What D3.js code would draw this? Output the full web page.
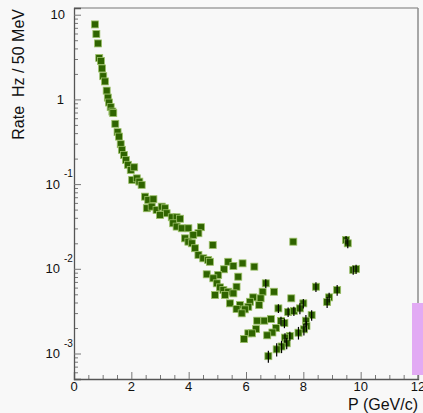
<!DOCTYPE html>
<html>
<head>
<meta charset="utf-8">
<script src="https://cdn.jsdelivr.net/npm/d3@7"></script>
<style>
  body { margin: 0; background: #f8f8f8; }
  text { font-family: "Liberation Sans", Arial, sans-serif; fill: #111; }
</style>
</head>
<body>
<div id="chart"></div>
<script>
// momentum (GeV/c), rate (Hz / 50 MeV) and rate error
var momentum = [
  0.73, 0.78, 0.84, 0.88, 0.94, 0.98, 1.02, 1.08, 1.14, 1.18,
  1.22, 1.28, 1.34, 1.37, 1.44, 1.52, 1.57, 1.63, 1.67, 1.74,
  1.81, 1.88, 1.98, 2.10, 2.03, 2.19, 2.28, 2.36, 2.48, 2.59,
  2.77, 2.54, 2.71, 2.88, 3.06, 3.17, 3.23, 3.41, 3.58, 3.00,
  3.70, 3.46, 3.58, 3.76, 3.99, 4.43, 4.34, 4.16, 3.87, 3.99,
  4.11, 4.22, 4.84, 4.34, 4.51, 4.68, 4.74, 5.38, 5.56, 5.88,
  6.29, 5.23, 4.63, 5.03, 5.73, 4.86, 4.98, 5.09, 5.67, 6.69,
  5.21, 5.38, 5.56, 6.58, 6.98, 4.92, 5.27, 6.25, 6.51, 6.14,
  5.44, 5.79, 6.08, 6.46, 7.13, 7.65, 9.49, 9.55, 9.74, 9.84,
  8.44, 9.18, 8.90, 8.83, 7.58, 8.00, 5.67, 5.96, 5.85, 7.47,
  7.67, 7.88, 8.29, 6.39, 6.64, 6.87, 7.22, 7.34, 8.09, 8.11,
  8.02, 7.83, 7.05, 6.92, 6.74, 6.35, 6.08, 6.21, 5.93, 7.53,
  7.36, 7.42, 7.24, 7.07, 6.78
];
var rate = [
  7.68, 5.91, 4.58, 3.08, 2.84, 2.32, 1.88, 1.63, 1.27, 1.05,
  0.919, 0.811, 0.719, 0.689, 0.515, 0.411, 0.364, 0.296, 0.254, 0.221,
  0.193, 0.169, 0.147, 0.158, 0.112, 0.117, 0.107, 0.098, 0.0711, 0.0650,
  0.0663, 0.0519, 0.0542, 0.0496, 0.0542, 0.0519, 0.0453, 0.0406, 0.0406, 0.0432,
  0.0390, 0.0345, 0.0315, 0.0301, 0.0301, 0.0310, 0.0263, 0.0251, 0.0229, 0.0209,
  0.0200, 0.0175, 0.0191, 0.0146, 0.0133, 0.0127, 0.0121, 0.0121, 0.0108, 0.0116,
  0.0106, 0.00987, 0.00861, 0.00845, 0.00807, 0.00773, 0.00674, 0.00604, 0.00614, 0.00674,
  0.00562, 0.00536, 0.00513, 0.00536, 0.00536, 0.00490, 0.00490, 0.00460, 0.00448, 0.00408,
  0.00391, 0.00373, 0.00356, 0.00373, 0.00341, 0.0209, 0.0219, 0.0200, 0.00968, 0.00995,
  0.00614, 0.00562, 0.00460, 0.00405, 0.00448, 0.00391, 0.00335, 0.00332, 0.00298, 0.00309,
  0.00317, 0.00341, 0.00284, 0.00244, 0.00244, 0.00255, 0.00242, 0.00229, 0.00244, 0.00211,
  0.00193, 0.00176, 0.00200, 0.00177, 0.00164, 0.00194, 0.00173, 0.00173, 0.00148, 0.00161,
  0.00154, 0.00132, 0.00121, 0.00112, 0.00093
];
var rateErr = [
  0, 0, 0, 0, 0, 0, 0, 0, 0, 0,
  0, 0, 0, 0, 0, 0, 0, 0, 0, 0,
  0, 0, 0, 0, 0, 0, 0, 0, 0, 0,
  0, 0, 0, 0, 0, 0, 0, 0, 0, 0,
  0, 0, 0, 0, 0, 0, 0, 0, 0, 0,
  0, 0, 0, 0, 0, 0, 0, 0, 0, 0,
  0, 0, 0, 0, 0, 0, 0, 0, 0, 0.0008,
  0, 0, 0, 0, 0, 0, 0, 0, 0, 0,
  0, 0, 0, 0, 0.0004, 0, 0.0025, 0.0025, 0.0012, 0.0012,
  0.0008, 0.0008, 0.0006, 0.0006, 0, 0.0005, 0, 0, 0, 0.0004,
  0.0004, 0.0005, 0.0004, 0, 0, 0, 0.0003, 0.0003, 0.0004, 0.0003,
  0.0003, 0.0003, 0, 0, 0, 0, 0, 0, 0, 0.0002,
  0.0002, 0.0002, 0.0002, 0.0002, 0.00015
];

var xTicks = [0, 2, 4, 6, 8, 10, 12];
var yDecades = [-3, -2, -1, 0, 1];

var svgWidth = 423;
var svgHeight = 413;

var svg = d3.select("#chart")
  .append("svg")
  .attr("width", svgWidth)
  .attr("height", svgHeight);

svg.append("rect")
  .attr("width", svgWidth)
  .attr("height", svgHeight)
  .attr("fill", "#f8f8f8");

var x = d3.scaleLinear().domain([0, 12]).range([74, 418]);
var y = d3.scaleLog().domain([5e-4, 12]).range([379, 8]);

// frame (top and right in grey)
svg.append("line")
  .attr("x1", x(0)).attr("x2", x(12))
  .attr("y1", y(12)).attr("y2", y(12))
  .attr("stroke", "#a0a0a0").attr("stroke-width", 1.5);
svg.append("line")
  .attr("x1", x(12)).attr("x2", x(12))
  .attr("y1", y(12)).attr("y2", y(5e-4))
  .attr("stroke", "#8c8c8c").attr("stroke-width", 1.5);

// x axis: major ticks every 2, minor every 0.5, drawn upward
var minorX = d3.range(0, 12.01, 0.5).filter(d => d % 2 !== 0);
var xAxisMinor = svg.append("g")
  .attr("transform", `translate(0, ${y(5e-4)})`)
  .call(d3.axisTop(x).tickValues(minorX).tickSize(4).tickFormat(""));
var xAxis = svg.append("g")
  .attr("transform", `translate(0, ${y(5e-4)})`)
  .call(d3.axisTop(x).tickValues(xTicks).tickSize(7).tickFormat(""));

// y axis: decade ticks and 2..9 minor ticks, drawn inward
var minorY = [];
yDecades.forEach(function(e) {
  for (var k = 2; k <= 9; k++) {
    var v = k * Math.pow(10, e);
    if (v < 12 && v > 5e-4) minorY.push(v);
  }
});
minorY.push(6e-4, 7e-4, 8e-4, 9e-4);
var yAxisMinor = svg.append("g")
  .attr("transform", `translate(${x(0)}, 0)`)
  .call(d3.axisRight(y).tickValues(minorY).tickSize(4).tickFormat(""));
var yAxis = svg.append("g")
  .attr("transform", `translate(${x(0)}, 0)`)
  .call(d3.axisRight(y).tickValues(yDecades.map(e => Math.pow(10, e))).tickSize(7).tickFormat(""));

svg.selectAll(".domain").attr("stroke", "#555").attr("stroke-width", 1.3);
svg.selectAll(".tick line").attr("stroke", "#777");
xAxisMinor.select(".domain").remove();
yAxisMinor.select(".domain").remove();

// x tick labels
svg.selectAll(".xlab")
  .data(xTicks)
  .enter()
  .append("text")
  .attr("x", d => x(d))
  .attr("y", 391)
  .attr("text-anchor", "middle")
  .attr("font-size", 13)
  .text(d => d);

// y tick labels
yDecades.forEach(function(e) {
  var py = y(Math.pow(10, e));
  if (e === 0) {
    svg.append("text").attr("x", 64).attr("y", py + 4.5)
      .attr("text-anchor", "end").attr("font-size", 13).text("1");
  } else if (e === 1) {
    svg.append("text").attr("x", 65).attr("y", py + 4.5)
      .attr("text-anchor", "end").attr("font-size", 13).text("10");
  } else {
    svg.append("text").attr("x", 60).attr("y", py + 4.5)
      .attr("text-anchor", "end").attr("font-size", 13).text("10");
    svg.append("text").attr("x", 64).attr("y", py - 7)
      .attr("text-anchor", "start").attr("font-size", 10).text(e);
  }
});

// axis titles
svg.append("text")
  .attr("x", 418)
  .attr("y", 410)
  .attr("text-anchor", "end")
  .attr("font-size", 16)
  .text("P (GeV/c)");

svg.append("text")
  .attr("transform", "translate(24, 9) rotate(-90)")
  .attr("text-anchor", "end")
  .attr("font-size", 16)
  .attr("xml:space", "preserve")
  .text("Rate  Hz / 50 MeV");

// data points
var points = momentum.map((d, i) => ({p: d, r: rate[i], e: rateErr[i]}));

svg.selectAll(".pt")
  .data(points)
  .enter()
  .append("rect")
  .attr("x", d => x(d.p) - 3.5)
  .attr("y", d => y(d.r) - 3.5)
  .attr("width", 7)
  .attr("height", 7)
  .attr("fill", "#2f6400")
  .attr("stroke", "#9cc068")
  .attr("stroke-width", 0.8);

svg.selectAll(".err")
  .data(points.filter(d => d.e > 0))
  .enter()
  .append("line")
  .attr("x1", d => x(d.p)).attr("x2", d => x(d.p))
  .attr("y1", d => y(d.r - d.e)).attr("y2", d => y(d.r + d.e))
  .attr("stroke", "#000")
  .attr("stroke-width", 1.2);

// side panel edge
svg.append("rect")
  .attr("x", 412)
  .attr("y", 303)
  .attr("width", 11)
  .attr("height", 72)
  .attr("fill", "#e2aaf4");
</script>
</body>
</html>
